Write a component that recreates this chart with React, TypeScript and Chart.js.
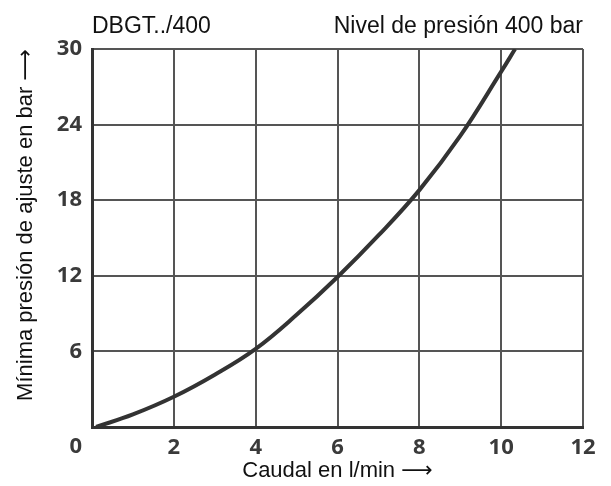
import React, { useEffect, useRef } from 'react';
import { Chart, registerables } from 'chart.js';

Chart.register(...registerables);

const flowLpm = [0.1, 1, 2, 3, 4, 5, 6, 7, 8, 9, 10, 10.34];
const pressureBar = [0, 1.0, 2.4, 4.15, 6.2, 8.9, 11.9, 15.2, 18.8, 23.1, 28.2, 30];
const xTickValues = [0, 2, 4, 6, 8, 10, 12];
const yTickValues = [0, 6, 12, 18, 24, 30];
const titleLeft = 'DBGT../400';
const titleRight = 'Nivel de presión 400 bar';
const xTitle = 'Caudal en l/min ⟶';
const yTitle = 'Mínima presión de ajuste en bar ⟶';

const TEXT_FONT = '"Liberation Sans", Arial, "DejaVu Sans", sans-serif';
const TICK_FONT = '"Open Sans", "DejaVu Sans", sans-serif';

const headerPlugin = {
  id: 'headerTexts',
  afterDraw(chart: any) {
    const { ctx, chartArea } = chart;
    ctx.save();
    ctx.fillStyle = '#111';
    ctx.font = `23px ${TEXT_FONT}`;
    ctx.textBaseline = 'alphabetic';
    ctx.textAlign = 'left';
    ctx.fillText(titleLeft, chartArea.left, 33);
    ctx.textAlign = 'right';
    ctx.fillText(titleRight, chartArea.right, 33);

    // corner "0" label shared by both axes
    ctx.font = `bold 22px ${TICK_FONT}`;
    ctx.fillStyle = '#3a3a3a';
    ctx.textAlign = 'right';
    ctx.textBaseline = 'middle';
    ctx.fillText(String(xTickValues[0]), chartArea.left - 10, chartArea.bottom + 20);
    ctx.restore();
  },
};

export default function App() {
  const canvasRef = useRef<HTMLCanvasElement | null>(null);

  useEffect(() => {
    document.body.style.margin = '0';
    const canvas = canvasRef.current;
    if (!canvas) return;
    const chart = new Chart(canvas, {
      type: 'line',
      data: {
        datasets: [
          {
            data: flowLpm.map((x, i) => ({ x, y: pressureBar[i] })),
            borderColor: '#333333',
            borderWidth: 4,
            pointRadius: 0,
            fill: false,
            tension: 0.4,
          },
        ],
      },
      options: {
        animation: false,
        responsive: false,
        devicePixelRatio: 1,
        layout: { padding: { top: 49, right: 28, bottom: 0, left: 0 } },
        plugins: { legend: { display: false }, tooltip: { enabled: false } },
        scales: {
          x: {
            type: 'linear',
            min: xTickValues[0],
            max: xTickValues[xTickValues.length - 1],
            afterBuildTicks: (s: any) => {
              s.ticks = xTickValues.map((v) => ({ value: v }));
            },
            afterFit: (s: any) => {
              s.height = 59;
            },
            ticks: {
              padding: 8,
              color: '#3a3a3a',
              font: { family: TICK_FONT, size: 22, weight: 'bold' },
              callback: (v: any) => (v === 0 ? '' : String(v)),
              maxRotation: 0,
            },
            grid: { color: '#555555', lineWidth: 2, drawTicks: false },
            border: { color: '#333333', width: 3 },
            title: {
              display: true,
              text: xTitle,
              color: '#111',
              font: { family: TEXT_FONT, size: 22 },
              padding: { top: 0, bottom: 2 },
            },
          },
          y: {
            type: 'linear',
            min: yTickValues[0],
            max: yTickValues[yTickValues.length - 1],
            afterBuildTicks: (s: any) => {
              s.ticks = yTickValues.map((v) => ({ value: v }));
            },
            afterFit: (s: any) => {
              s.width = 92;
            },
            ticks: {
              padding: 10,
              color: '#3a3a3a',
              font: { family: TICK_FONT, size: 22, weight: 'bold' },
              callback: (v: any) => (v === 0 ? '' : String(v)),
            },
            grid: { color: '#555555', lineWidth: 2, drawTicks: false },
            border: { color: '#333333', width: 3 },
            title: {
              display: true,
              text: yTitle,
              align: 'end',
              color: '#111',
              font: { family: TEXT_FONT, size: 22 },
              padding: { top: 13, bottom: 0 },
            },
          },
        },
      },
      plugins: [headerPlugin],
    } as any);
    return () => chart.destroy();
  }, []);

  return (
    <div style={{ position: 'fixed', left: 0, top: 0, width: 611, height: 486, background: '#fff' }}>
      <canvas ref={canvasRef} width={611} height={486} style={{ width: 611, height: 486 }} />
    </div>
  );
}
